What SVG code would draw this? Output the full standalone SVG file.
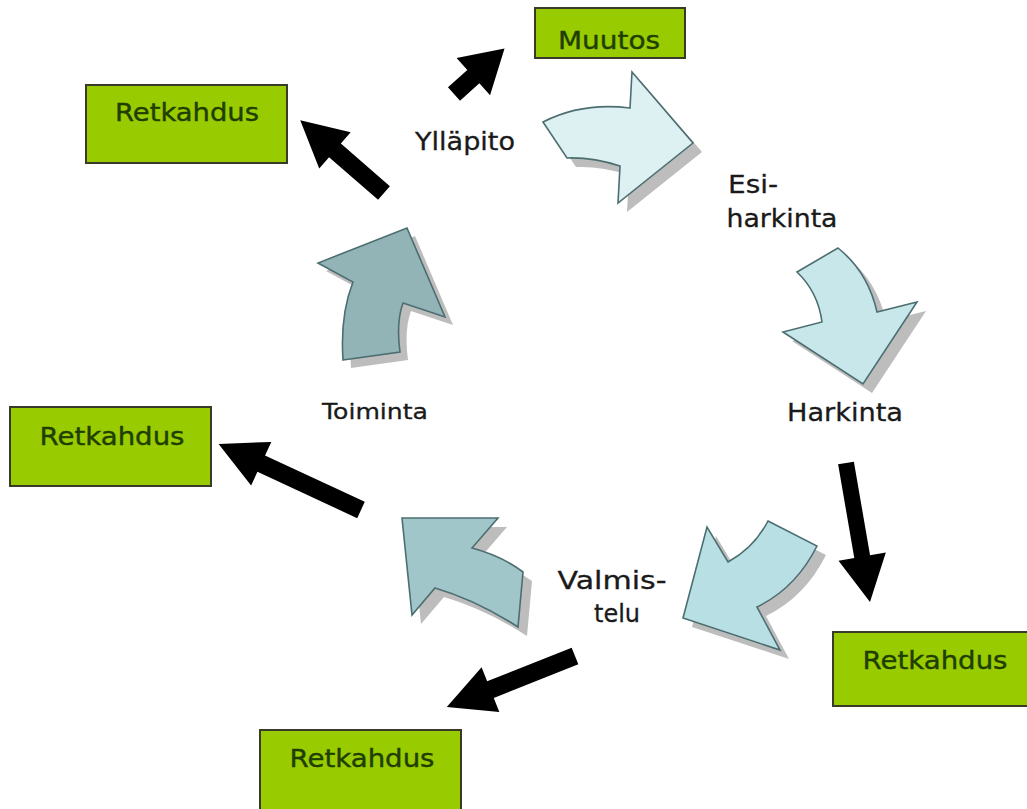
<svg xmlns="http://www.w3.org/2000/svg" width="1027" height="809" viewBox="0 0 1027 809">
<defs>
<style>
.box{fill:#99cc00;stroke:#3a3a2a;stroke-width:2}
.bt{font-family:"DejaVu Sans",Verdana,sans-serif;font-size:24px;fill:#1f3f00;stroke:#1f3f00;stroke-width:0.4;text-anchor:middle}
.lb{font-family:"DejaVu Sans",Verdana,sans-serif;font-size:24px;fill:#1a1a1a;stroke:#1a1a1a;stroke-width:0.3;text-anchor:middle}
.blk{fill:#000}
.sh{fill:#bdbdbd}
.ca{stroke:#4d6e70;stroke-width:1.6;stroke-linejoin:miter}
</style>
</defs>
<rect width="1027" height="809" fill="#ffffff"/>

<g id="cycle-arrows">
  <g id="arrow-esiharkinta">
    <path class="sh" transform="translate(9,9)" d="M543,122 Q582,102 630,108 L632,72 L693,143 L618,203 L620,166 Q592,157 567,158 Z"/>
    <path class="ca" fill="#ddf0f2" d="M543,122 Q582,102 630,108 L632,72 L693,143 L618,203 L620,166 Q592,157 567,158 Z"/>
  </g>
  <g id="arrow-harkinta">
    <path class="sh" transform="translate(9,9)" d="M797,272 L838,248 Q868,272 877,312 L917,302 L863,384 L783,332 L822,322 Q818,292 797,272 Z"/>
    <path class="ca" fill="#c8e7eb" d="M797,272 L838,248 Q868,272 877,312 L917,302 L863,384 L783,332 L822,322 Q818,292 797,272 Z"/>
  </g>
  <g id="arrow-valmistelu">
    <path class="sh" transform="translate(9,9)" d="M768,521 L817,546 Q796,588 757,607 L780,650 L683,618 L707,527 L728,562 Q754,548 768,521 Z"/>
    <path class="ca" fill="#b8dfe4" d="M768,521 L817,546 Q796,588 757,607 L780,650 L683,618 L707,527 L728,562 Q754,548 768,521 Z"/>
  </g>
  <g id="arrow-toiminta">
    <path class="sh" transform="translate(9,9)" d="M402,518 L498,518 L472,548 Q502,556 523,572 L518,627 Q476,600 435,588 L412,615 Z"/>
    <path class="ca" fill="#a0c6c9" d="M402,518 L498,518 L472,548 Q502,556 523,572 L518,627 Q476,600 435,588 L412,615 Z"/>
  </g>
  <g id="arrow-yllapito">
    <path class="sh" transform="translate(8,8)" d="M343,360 L400,352 Q396,322 403,303 L445,317 L407,228 L318,263 L353,282 Q340,315 343,360 Z"/>
    <path class="ca" fill="#92b4b6" d="M343,360 L400,352 Q396,322 403,303 L445,317 L407,228 L318,263 L353,282 Q340,315 343,360 Z"/>
  </g>
</g>

<g id="connectors">
  <path class="blk" transform="translate(454,94) rotate(-42)" d="M0,-9 L26,-9 L26,-25 L68,0 L26,25 L26,9 L0,9 Z"/>
  <path class="blk" transform="translate(384,193) rotate(-139)" d="M0,-9 L65,-9 L65,-24 L111,0 L65,24 L65,9 L0,9 Z"/>
  <path class="blk" transform="translate(361,510) rotate(-155.1)" d="M0,-9 L110,-9 L110,-24 L157,0 L110,24 L110,9 L0,9 Z"/>
  <path class="blk" transform="translate(846,463) rotate(80.2)" d="M0,-8 L95,-8 L95,-24 L141,0 L95,24 L95,8 L0,8 Z"/>
  <path class="blk" transform="translate(575,656) rotate(158.3)" d="M0,-9 L91,-9 L91,-24 L138,0 L91,24 L91,9 L0,9 Z"/>
</g>

<g id="node-muutos">
  <rect class="box" x="535" y="8" width="150" height="50"/>
  <text class="bt" x="609" y="49" textLength="102" lengthAdjust="spacingAndGlyphs">Muutos</text>
</g>
<g id="node-retkahdus-1">
  <rect class="box" x="86" y="85" width="201" height="78"/>
  <text class="bt" x="187" y="121" textLength="144" lengthAdjust="spacingAndGlyphs">Retkahdus</text>
</g>
<g id="node-retkahdus-2">
  <rect class="box" x="10" y="407" width="201" height="79"/>
  <text class="bt" x="112" y="445" textLength="145" lengthAdjust="spacingAndGlyphs">Retkahdus</text>
</g>
<g id="node-retkahdus-3">
  <rect class="box" x="833" y="632" width="196" height="74"/>
  <text class="bt" x="935" y="669" textLength="145" lengthAdjust="spacingAndGlyphs">Retkahdus</text>
</g>
<g id="node-retkahdus-4">
  <rect class="box" x="260" y="730" width="201" height="82"/>
  <text class="bt" x="362" y="767" textLength="145" lengthAdjust="spacingAndGlyphs">Retkahdus</text>
</g>

<g id="labels">
  <text class="lb" x="465" y="150" textLength="100" lengthAdjust="spacingAndGlyphs">Ylläpito</text>
  <text class="lb" x="753" y="193" textLength="50" lengthAdjust="spacingAndGlyphs">Esi-</text>
  <text class="lb" x="782" y="227" textLength="111" lengthAdjust="spacingAndGlyphs">harkinta</text>
  <text class="lb" x="845" y="421" textLength="116" lengthAdjust="spacingAndGlyphs">Harkinta</text>
  <text class="lb" x="612" y="589" textLength="109" lengthAdjust="spacingAndGlyphs">Valmis-</text>
  <text class="lb" x="617" y="622">telu</text>
  <text class="lb" x="375" y="419" style="font-size:21px" textLength="106" lengthAdjust="spacingAndGlyphs">Toiminta</text>
</g>
</svg>
